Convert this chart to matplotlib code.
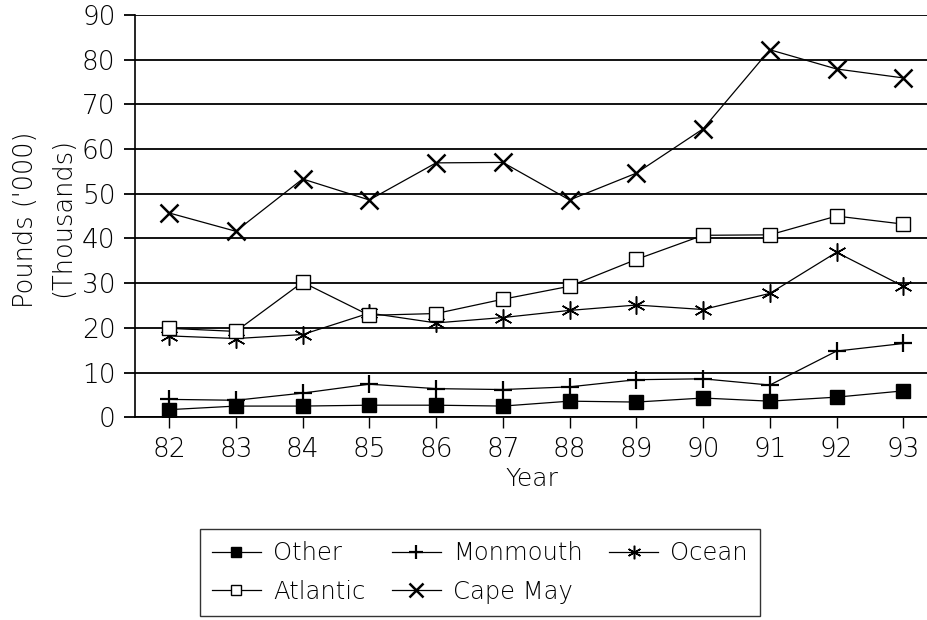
import matplotlib
matplotlib.use("Agg")
import matplotlib.pyplot as plt

years = [82, 83, 84, 85, 86, 87, 88, 89, 90, 91, 92, 93]
other = [1.7, 2.5, 2.5, 2.7, 2.7, 2.5, 3.6, 3.4, 4.3, 3.6, 4.5, 5.9]
monmouth = [4.0, 3.8, 5.4, 7.4, 6.4, 6.2, 6.8, 8.4, 8.6, 7.2, 14.8, 16.5]
ocean = [18.2, 17.6, 18.5, 23.3, 21.1, 22.3, 23.9, 25.1, 24.1, 27.7, 36.9, 29.3]
atlantic = [19.9, 19.2, 30.2, 22.8, 23.2, 26.4, 29.3, 35.3, 40.7, 40.8, 45.0, 43.2]
cape_may = [45.7, 41.6, 53.3, 48.6, 56.9, 57.0, 48.6, 54.6, 64.5, 82.2, 77.9, 75.9]
yticks = [0, 10, 20, 30, 40, 50, 60, 70, 80, 90]

plt.rcParams['font.family'] = ['DejaVu Sans']
plt.rcParams['font.weight'] = 'light'
plt.rcParams['axes.labelweight'] = 'light'
fig = plt.figure(figsize=(9.28, 6.2), dpi=100)
ax = fig.add_axes([0.1455, 0.327, 0.8545, 0.649])

lw = 0.9
h1, = ax.plot(years, other, 'k-', marker='s', ms=10, mfc='black', lw=lw, label='Other')
h2, = ax.plot(years, monmouth, 'k-', marker='+', ms=13, mew=1.6, lw=lw, label='Monmouth')
h3, = ax.plot(years, ocean, 'k-', marker=(6, 2, 0), ms=13, mew=1.1, lw=lw, label='Ocean')
h4, = ax.plot(years, atlantic, 'k-', marker='s', ms=10, mfc='white', mew=1.0, lw=lw, label='Atlantic')
h5, = ax.plot(years, cape_may, 'k-', marker='x', ms=13, mew=1.8, lw=lw, label='Cape May')

ax.set_xlim(81.49, 93.37)
ax.set_ylim(0, 90)
ax.set_xticks(years)
ax.set_yticks(yticks)
ax.yaxis.grid(True, color='black', lw=1.3)
ax.set_axisbelow(True)
for s in ['top', 'right']:
    ax.spines[s].set_visible(False)
ax.spines['left'].set_linewidth(1.2)
ax.spines['bottom'].set_linewidth(1.3)
ax.tick_params(axis='both', labelsize=19, length=8, width=1.0, direction='out', pad=6)
ax.tick_params(axis='y', length=8, width=1.3)

fig.text(0.027, 0.645, "Pounds ('000)", rotation=90, fontsize=18.5, ha='center', va='center')
fig.text(0.067, 0.65, "(Thousands)", rotation=90, fontsize=18.5, ha='center', va='center')
ax.set_xlabel('Year', fontsize=18, labelpad=4)

leg = fig.legend([h1, h4, h2, h5, h3], ['Other', 'Atlantic', 'Monmouth', 'Cape May', 'Ocean'],
                 ncol=3, loc='upper left', bbox_to_anchor=(0.2155, 0.147),
                 fontsize=17.5, frameon=True, fancybox=False, edgecolor='black',
                 handlelength=2.0, handletextpad=0.5, columnspacing=1.1,
                 borderpad=0.5, borderaxespad=0, labelspacing=0.6, markerscale=0.75)
leg.get_frame().set_linewidth(1.0)

fig.savefig('out.png', dpi=100)
